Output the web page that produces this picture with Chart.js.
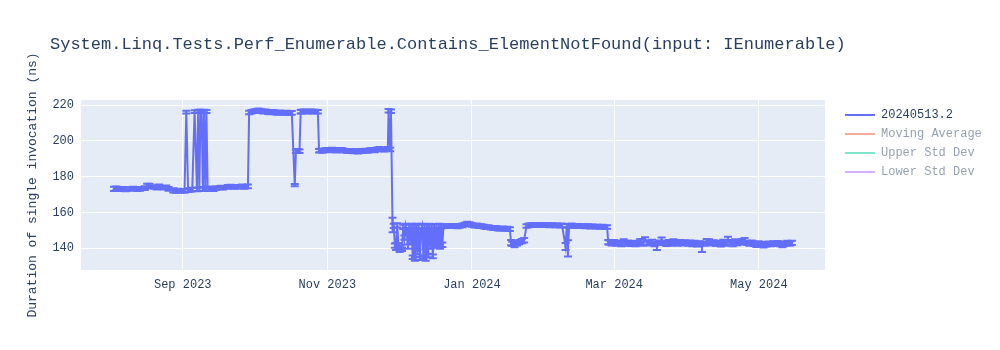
<!DOCTYPE html>
<html><head><meta charset="utf-8">
<script src="https://cdn.jsdelivr.net/npm/chart.js@4.4.1/dist/chart.umd.min.js"></script>
<style>html,body{margin:0;padding:0;background:#fff;}</style>
</head><body>
<canvas id="c" width="1000" height="350" style="display:block;width:1000px;height:350px"></canvas>
<script>
const chartTitle = 'System.Linq.Tests.Perf_Enumerable.Contains_ElementNotFound(input: IEnumerable)';
const yAxisTitle = 'Duration of single invocation (ns)';
const seriesNames = ['20240513.2', 'Moving Average', 'Upper Std Dev', 'Lower Std Dev'];
const xTickDates = ['2023-09-01', '2023-11-01', '2024-01-01', '2024-03-01', '2024-05-01'];
const xTickLabels = ['Sep 2023', 'Nov 2023', 'Jan 2024', 'Mar 2024', 'May 2024'];
const yTicks = [140, 160, 180, 200, 220];
const xRange = ['2023-07-20 02', '2024-05-28 22'];
const yRange = [127.9, 222.8];

const dates = [
'2023-08-03','2023-08-04','2023-08-05','2023-08-07','2023-08-08','2023-08-10','2023-08-11','2023-08-13','2023-08-14','2023-08-16',
'2023-08-17','2023-08-18','2023-08-20','2023-08-21','2023-08-22','2023-08-24','2023-08-25','2023-08-26','2023-08-28','2023-08-29',
'2023-08-30','2023-08-31','2023-09-01 18','2023-09-02 12','2023-09-03 06','2023-09-04','2023-09-05','2023-09-06','2023-09-07','2023-09-07 12',
'2023-09-08','2023-09-08 12','2023-09-09','2023-09-09 12','2023-09-10','2023-09-10 12','2023-09-11','2023-09-11 12','2023-09-12','2023-09-14',
'2023-09-15','2023-09-17','2023-09-18','2023-09-20','2023-09-21','2023-09-23','2023-09-24','2023-09-26','2023-09-27','2023-09-28 12',
'2023-09-29','2023-09-30','2023-10-01','2023-10-02','2023-10-03','2023-10-04','2023-10-05','2023-10-06','2023-10-07','2023-10-08',
'2023-10-09','2023-10-10','2023-10-11','2023-10-12','2023-10-13','2023-10-14','2023-10-15','2023-10-16','2023-10-17','2023-10-18 06',
'2023-10-18 18','2023-10-19 12','2023-10-20 06','2023-10-20 18','2023-10-21','2023-10-22','2023-10-23','2023-10-24','2023-10-25','2023-10-26',
'2023-10-27','2023-10-28','2023-10-28 12','2023-10-29','2023-10-30','2023-10-31','2023-11-01','2023-11-02','2023-11-03','2023-11-04',
'2023-11-05','2023-11-06','2023-11-07','2023-11-08','2023-11-09','2023-11-10','2023-11-11','2023-11-12','2023-11-13','2023-11-14',
'2023-11-15','2023-11-16','2023-11-17','2023-11-18','2023-11-19','2023-11-20','2023-11-21','2023-11-22','2023-11-23','2023-11-24',
'2023-11-25','2023-11-26 12','2023-11-26 20','2023-11-27 12','2023-11-27 20','2023-11-28 12','2023-11-29','2023-11-29 12','2023-11-30','2023-11-30 12',
'2023-12-01','2023-12-01 12','2023-12-02','2023-12-02 12','2023-12-03','2023-12-03 12','2023-12-04','2023-12-04 12','2023-12-05','2023-12-05 12',
'2023-12-06','2023-12-06 12','2023-12-07','2023-12-07 12','2023-12-08','2023-12-08 12','2023-12-09','2023-12-09 12','2023-12-10','2023-12-10 12',
'2023-12-11','2023-12-11 12','2023-12-12','2023-12-12 12','2023-12-13','2023-12-13 12','2023-12-14','2023-12-14 12','2023-12-15','2023-12-15 12',
'2023-12-16','2023-12-16 12','2023-12-17','2023-12-17 12','2023-12-18','2023-12-18 12','2023-12-19','2023-12-19 12','2023-12-20','2023-12-21',
'2023-12-22','2023-12-23','2023-12-24','2023-12-25','2023-12-26','2023-12-27','2023-12-28','2023-12-29','2023-12-30','2023-12-31',
'2024-01-01','2024-01-02','2024-01-03','2024-01-04','2024-01-05','2024-01-06','2024-01-07','2024-01-08','2024-01-09','2024-01-10',
'2024-01-11','2024-01-12','2024-01-13','2024-01-14','2024-01-15','2024-01-16','2024-01-17','2024-01-17 12','2024-01-18','2024-01-19',
'2024-01-20','2024-01-21','2024-01-22','2024-01-23','2024-01-24','2024-01-25','2024-01-26','2024-01-27','2024-01-28','2024-01-29',
'2024-01-30','2024-01-31','2024-02-01','2024-02-02','2024-02-03','2024-02-04','2024-02-05','2024-02-06','2024-02-07','2024-02-08',
'2024-02-09 12','2024-02-10','2024-02-10 12','2024-02-11','2024-02-12','2024-02-13','2024-02-14','2024-02-15','2024-02-16','2024-02-17',
'2024-02-18','2024-02-19','2024-02-20','2024-02-21','2024-02-22','2024-02-23','2024-02-24','2024-02-25','2024-02-26','2024-02-27',
'2024-02-27 12','2024-02-28','2024-02-29','2024-03-01','2024-03-02','2024-03-03','2024-03-04','2024-03-05','2024-03-06','2024-03-07',
'2024-03-08','2024-03-09','2024-03-10','2024-03-11','2024-03-12','2024-03-13','2024-03-14','2024-03-15','2024-03-16','2024-03-17',
'2024-03-18','2024-03-19','2024-03-20','2024-03-21','2024-03-22','2024-03-23','2024-03-24','2024-03-25','2024-03-26','2024-03-27',
'2024-03-28','2024-03-29','2024-03-30','2024-03-31','2024-04-01','2024-04-02','2024-04-03','2024-04-04','2024-04-05','2024-04-06',
'2024-04-07','2024-04-08','2024-04-09','2024-04-10','2024-04-11','2024-04-12','2024-04-13','2024-04-14','2024-04-15','2024-04-16',
'2024-04-17','2024-04-18','2024-04-19','2024-04-20','2024-04-21','2024-04-22','2024-04-23','2024-04-24','2024-04-25','2024-04-26',
'2024-04-27','2024-04-28','2024-04-29','2024-04-30','2024-05-01','2024-05-02','2024-05-03','2024-05-04','2024-05-05','2024-05-06',
'2024-05-07','2024-05-08','2024-05-09','2024-05-10','2024-05-11','2024-05-12','2024-05-13','2024-05-14','2024-05-15'
];

const values = [
173.2,173.5,173.0,173.3,172.9,173.1,173.4,173.0,173.2,173.6,
174.8,175.0,174.2,173.9,174.4,173.8,174.1,173.2,172.4,172.0,
172.3,172.1,172.0,216.0,172.4,172.6,172.8,216.3,172.8,216.5,
173.0,216.6,216.2,173.2,216.5,173.0,216.4,173.5,173.2,173.0,
173.6,174.0,173.8,174.3,174.5,174.2,174.4,174.6,174.3,174.6,
215.8,216.2,216.5,216.8,217.0,216.6,216.3,216.5,216.0,215.9,
216.2,215.8,215.6,215.9,215.7,215.5,215.8,215.4,215.6,175.3,
194.2,194.5,194.2,216.2,216.3,216.5,216.4,216.2,216.5,216.3,
216.4,216.2,194.5,194.6,194.3,194.8,195.0,194.7,195.2,194.9,
194.5,194.8,195.0,194.6,194.4,194.2,194.5,194.1,194.3,194.0,
194.4,194.2,194.6,194.3,194.8,195.0,194.7,195.3,195.6,195.2,
195.0,195.5,216.8,195.2,216.5,153.0,152.5,141.5,141.0,152.8,
141.5,139.0,140.5,139.5,152.0,146.0,152.5,149.0,141.0,152.0,
144.0,152.5,135.0,152.0,134.0,152.5,138.0,152.0,134.5,150.0,
152.5,135.0,152.0,134.0,152.3,136.0,152.5,141.0,152.0,135.5,
152.4,141.5,152.2,142.5,152.5,141.0,152.3,142.0,152.4,152.5,
152.3,152.6,152.4,152.5,152.2,152.6,152.8,153.3,153.8,153.5,
153.0,152.6,152.8,152.4,152.5,152.1,151.8,151.9,151.5,151.2,
151.4,151.0,150.9,151.2,150.8,151.0,150.7,143.2,142.5,141.8,
142.8,143.5,144.0,144.5,152.5,152.8,153.0,153.2,152.9,153.1,
153.0,153.2,152.9,153.0,152.8,153.0,152.7,152.9,152.6,152.8,
141.0,152.6,140.0,152.5,152.8,152.6,152.4,152.6,152.3,152.5,
152.2,152.4,152.1,152.3,152.0,152.2,151.9,152.1,151.8,151.9,
143.5,143.2,142.8,143.5,142.6,143.0,142.4,143.8,142.7,143.2,
142.5,142.9,142.3,143.0,144.0,142.6,145.0,143.3,142.8,143.6,
142.4,141.0,143.2,144.5,143.0,142.5,143.4,142.7,143.9,143.1,
142.6,143.5,142.9,143.3,142.6,143.2,142.4,143.0,142.2,142.8,
140.5,142.6,144.0,143.5,142.8,143.3,142.5,143.0,142.2,143.6,
142.7,145.0,143.5,142.4,143.8,142.9,143.4,144.0,144.5,143.0,
142.6,143.2,142.5,142.0,142.8,142.4,141.6,142.2,142.6,142.3,
142.8,142.5,142.9,142.4,141.8,142.6,143.0,142.7,143.0
];

const errors = [
1.2,1.0,1.0,1.0,1.0,1.0,1.0,1.0,1.0,1.0,
1.2,1.0,1.0,1.0,1.2,1.0,1.0,1.0,1.2,1.0,
1.0,1.0,1.0,0.8,1.0,1.0,1.0,0.8,1.0,0.8,
1.0,0.8,0.8,1.0,0.8,1.0,0.8,1.0,1.0,1.0,
1.0,1.0,1.0,1.0,1.0,1.0,1.0,1.0,1.0,1.0,
1.0,1.0,1.0,1.0,1.0,1.0,1.0,1.0,1.0,1.0,
1.0,1.0,1.0,1.0,1.0,1.0,1.0,1.0,1.0,0.6,
1.0,1.0,1.0,1.0,1.0,1.0,1.0,1.0,1.0,1.0,
1.0,1.0,1.0,1.0,1.0,1.0,1.0,1.0,1.0,1.0,
1.0,1.0,1.0,1.0,1.0,1.0,1.0,1.0,1.0,1.0,
1.0,1.0,1.0,1.0,1.0,1.0,1.0,1.0,1.0,1.0,
1.0,1.0,1.0,1.0,1.0,4.0,1.2,1.2,2.0,1.2,
1.5,1.0,1.2,1.0,1.2,1.2,1.2,1.2,1.2,1.2,
1.2,1.2,1.0,1.2,1.0,1.2,1.2,1.2,1.0,1.2,
1.2,1.0,1.2,1.0,1.2,1.0,1.2,1.2,1.2,1.0,
1.2,1.2,1.2,1.2,1.2,1.2,1.2,1.2,1.0,1.0,
1.0,1.0,1.0,1.0,1.0,1.0,1.0,1.0,1.0,1.0,
1.0,1.0,1.0,1.0,1.0,1.0,1.0,1.0,1.0,1.0,
1.0,1.0,1.0,1.0,1.0,1.0,1.0,1.5,1.2,1.2,
1.2,1.2,1.2,1.2,1.0,1.0,1.0,1.0,1.0,1.0,
1.0,1.0,1.0,1.0,1.0,1.0,1.0,1.0,1.0,1.0,
2.0,1.0,4.5,1.0,1.0,1.0,1.0,1.0,1.0,1.0,
1.0,1.0,1.0,1.0,1.0,1.0,1.0,1.0,1.0,1.0,
1.2,1.2,1.2,1.2,1.2,1.2,1.2,1.2,1.2,1.2,
1.2,1.2,1.2,1.2,1.2,1.2,1.2,1.2,1.2,1.2,
1.2,2.0,1.2,1.5,1.2,1.2,1.2,1.2,1.2,1.2,
1.2,1.2,1.2,1.2,1.2,1.2,1.2,1.2,1.2,1.2,
2.5,1.2,1.2,1.5,1.2,1.2,1.2,1.2,1.2,1.2,
1.2,1.4,1.2,1.2,1.2,1.2,1.2,1.2,1.2,1.2,
1.2,1.2,1.2,1.2,1.2,1.2,1.2,1.2,1.2,1.2,
1.2,1.2,1.2,1.2,1.2,1.2,1.2,1.2,1.2
];

function toMs(s) {
  return Date.UTC(+s.slice(0, 4), +s.slice(5, 7) - 1, +s.slice(8, 10), s.length > 10 ? +s.slice(11, 13) : 0);
}

const FONT = 'Liberation Mono, Courier New, monospace';
const TEXT = '#2a3f5f';
const lineColors = ['#636efa', 'rgba(239,85,59,0.5)', 'rgba(0,204,150,0.5)', 'rgba(171,99,250,0.5)'];
const labelColors = [TEXT, 'rgba(42,63,95,0.5)', 'rgba(42,63,95,0.5)', 'rgba(42,63,95,0.5)'];

const points = dates.map((d, i) => ({x: toMs(d), y: values[i]}));

const plotBg = {
  id: 'plotBg',
  beforeDraw(chart) {
    const a = chart.chartArea, ctx = chart.ctx;
    ctx.save();
    ctx.fillStyle = '#e5ecf6';
    ctx.fillRect(a.left, a.top, a.right - a.left, a.bottom - a.top);
    ctx.restore();
  }
};

const errorBars = {
  id: 'errorBars',
  afterDatasetsDraw(chart) {
    const xs = chart.scales.x, ys = chart.scales.y, a = chart.chartArea, ctx = chart.ctx;
    ctx.save();
    ctx.beginPath();
    ctx.rect(a.left, a.top, a.right - a.left, a.bottom - a.top);
    ctx.clip();
    ctx.strokeStyle = lineColors[0];
    ctx.lineWidth = 2;
    const cap = 4;
    dates.forEach((d, i) => {
      const x = xs.getPixelForValue(toMs(d));
      const y1 = ys.getPixelForValue(values[i] + errors[i]);
      const y2 = ys.getPixelForValue(values[i] - errors[i]);
      ctx.beginPath();
      ctx.moveTo(x, y1); ctx.lineTo(x, y2);
      ctx.moveTo(x - cap, y1); ctx.lineTo(x + cap, y1);
      ctx.moveTo(x - cap, y2); ctx.lineTo(x + cap, y2);
      ctx.stroke();
    });
    ctx.restore();
  }
};

const nudge = {
  id: 'nudge',
  afterLayout(chart) {
    if (chart.titleBlock) { chart.titleBlock.left = 50; }
    if (chart.legend) {
      chart.legend.left += 13; chart.legend.right += 13;
      chart.legend.top += 2; chart.legend.bottom += 2;
    }
  }
};

new Chart(document.getElementById('c'), {
  type: 'line',
  data: {
    datasets: seriesNames.map((name, i) => ({
      label: name,
      data: i === 0 ? points : [],
      borderColor: lineColors[i],
      backgroundColor: lineColors[i],
      borderWidth: 2,
      pointRadius: 0,
      tension: 0,
      fill: false
    }))
  },
  options: {
    responsive: false,
    animation: false,
    devicePixelRatio: 1,
    layout: {padding: {left: 14.2, top: 34, right: 21.2, bottom: 49.6}},
    plugins: {
      title: {
        display: true, text: chartTitle, align: 'start', color: TEXT,
        font: {family: FONT, size: 17, weight: 'normal'},
        padding: {top: 0, bottom: 45.6}
      },
      legend: {
        position: 'right', align: 'start', fullSize: false,
        labels: {
          boxWidth: 30, boxHeight: 2, padding: 7,
          font: {family: FONT, size: 12},
          generateLabels: (chart) => chart.data.datasets.map((ds, i) => ({
            text: ds.label, fillStyle: lineColors[i], strokeStyle: lineColors[i],
            lineWidth: 0, fontColor: labelColors[i], hidden: false, datasetIndex: i
          }))
        }
      },
      tooltip: {enabled: false}
    },
    scales: {
      x: {
        type: 'linear',
        min: toMs(xRange[0]), max: toMs(xRange[1]),
        afterBuildTicks: (s) => { s.ticks = xTickDates.map(d => ({value: toMs(d)})); },
        ticks: {
          callback: (v, i) => xTickLabels[i],
          autoSkip: false, maxRotation: 0, padding: 8,
          color: TEXT, font: {family: FONT, size: 12}
        },
        grid: {color: '#ffffff', lineWidth: 1, drawTicks: false},
        border: {display: false}
      },
      y: {
        type: 'linear',
        min: yRange[0], max: yRange[1],
        afterBuildTicks: (s) => { s.ticks = yTicks.map(v => ({value: v})); },
        ticks: {
          callback: (v) => String(v), padding: 7,
          color: TEXT, font: {family: FONT, size: 12}
        },
        grid: {color: '#ffffff', lineWidth: 1, drawTicks: false},
        border: {display: false},
        title: {
          display: true, text: yAxisTitle, color: TEXT,
          font: {family: FONT, size: 13},
          padding: {top: 11, bottom: 4.6}
        }
      }
    }
  },
  plugins: [plotBg, errorBars, nudge]
});
</script>
</body></html>
